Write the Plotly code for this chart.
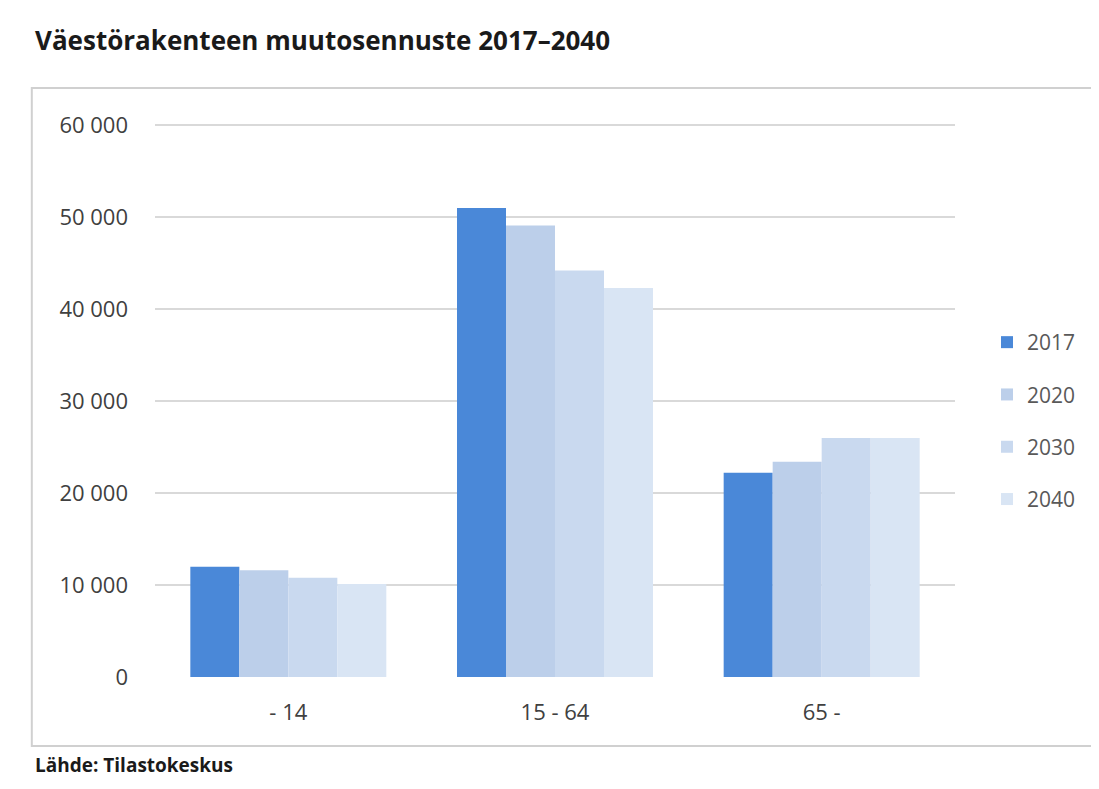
import plotly.graph_objects as go

categories = ["- 14", "15 - 64", "65 -"]
years = ["2017", "2020", "2030", "2040"]
v2017 = [12000, 51000, 22200]
v2020 = [11600, 49100, 23400]
v2030 = [10800, 44200, 26000]
v2040 = [10100, 42300, 26000]
series = [v2017, v2020, v2030, v2040]
colors = ["#4a88d8", "#bccfea", "#c9d9ef", "#d9e5f4"]
tick_vals = [0, 10000, 20000, 30000, 40000, 50000, 60000]

FONT = "Open Sans"

fig = go.Figure()
for i, (y, vals) in enumerate(zip(years, series)):
    fig.add_trace(go.Bar(
        x=categories, y=vals, name=y, marker_color=colors[i],
        marker_line_width=0, legendgroup=y,
    ))

# plot area: height 561 px for 0..61000, so 60 000 sits ~9 px below the top
H_PLOT = 561.0
def py(page_y):
    return (677 - page_y) / H_PLOT

fig.update_layout(
    width=1091, height=781,
    paper_bgcolor="white", plot_bgcolor="white",
    margin=dict(l=147, r=144, t=108, b=112),
    barmode="group", bargap=0.265, bargroupgap=0,
    separators=", ",
    font=dict(family=FONT, color="#404040"),
    showlegend=True,
    legend=dict(x=1.04, y=py(421), xanchor="left", yanchor="middle",
                font=dict(size=21, color="#595959"), tracegroupgap=22,
                itemwidth=30, bgcolor="rgba(0,0,0,0)"),
    annotations=[
        dict(text="<b>Väestörakenteen muutosennuste 2017–2040</b>", xref="paper", yref="paper",
             x=-0.152, y=py(40), xanchor="left", yanchor="middle", showarrow=False,
             font=dict(size=26, color="#1a1a1a", family=FONT)),
        dict(text="<b>Lähde: Tilastokeskus</b>", xref="paper", yref="paper",
             x=-0.152, y=py(765), xanchor="left", yanchor="middle", showarrow=False,
             font=dict(size=19, color="#1a1a1a", family=FONT)),
    ],
    shapes=[
        dict(type="rect", xref="paper", yref="paper", x0=-0.154, x1=1.25, y0=py(746), y1=py(88),
             line=dict(color="#d0d0d0", width=2), fillcolor="rgba(0,0,0,0)", layer="below"),
    ],
)
fig.update_xaxes(showline=False, ticks="", tickfont=dict(size=22, color="#404040"),
                 range=[-0.5, 2.5], ticklabelstandoff=20)
fig.update_yaxes(range=[0, 61000], tickvals=tick_vals, tickformat=",d",
                 showgrid=True, gridcolor="#d9d9d9", gridwidth=1.5, zeroline=False,
                 tickfont=dict(size=22, color="#404040"), ticklabelstandoff=26)

fig.write_html("out.html")
